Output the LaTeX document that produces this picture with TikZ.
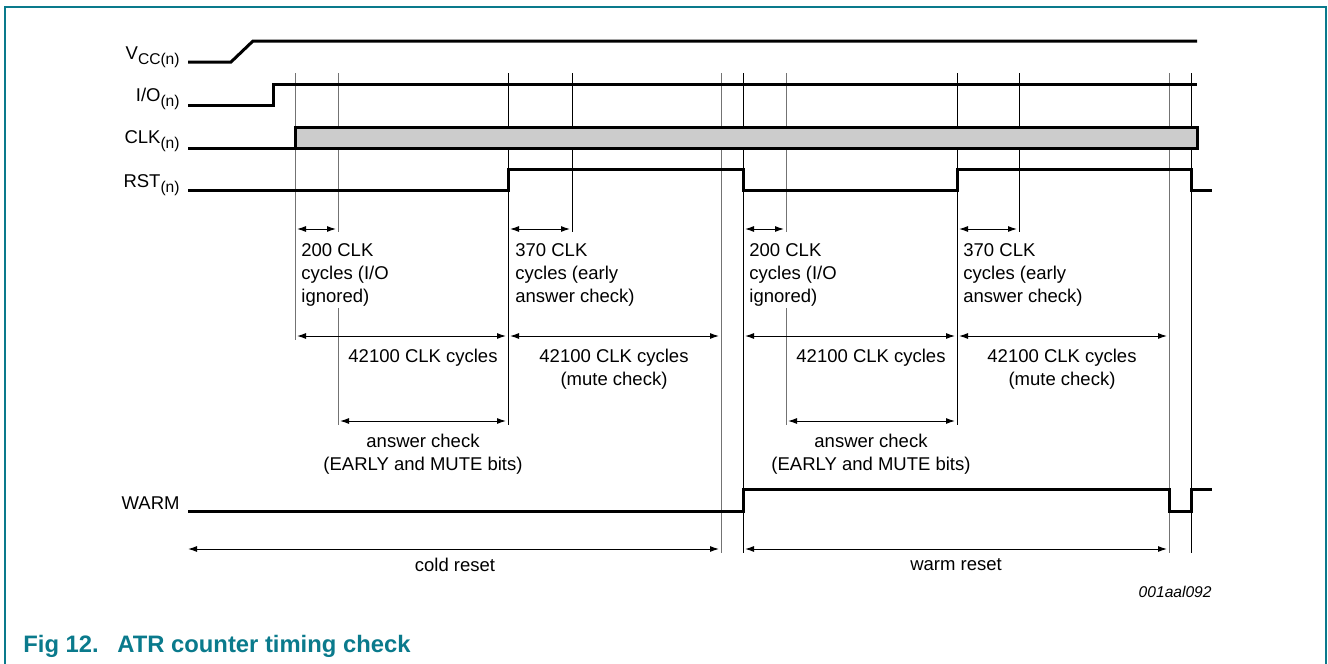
\documentclass[tikz,border=0pt]{standalone}
\usepackage{fontspec}
\setmainfont{Liberation Sans}
\usetikzlibrary{arrows.meta}
\definecolor{nxpteal}{HTML}{0A7A8C}
\definecolor{clkfill}{HTML}{CCCCCC}
\tikzset{
  wave/.style={line width=1.5pt, line join=miter},
  guide/.style={line width=0.5pt, black!55},
  guidedark/.style={line width=0.5pt, black},
  dimline/.style={{Latex[length=4.5pt,width=3pt]}-{Latex[length=4.5pt,width=3pt]}, line width=0.5pt, shorten <=1pt, shorten >=1pt},
  sig/.style={anchor=base east, inner sep=0pt, font=\fontsize{9.25}{11.5}\selectfont},
  note/.style={inner sep=0pt, align=left, anchor=north west, font=\fontsize{9.25}{11.5}\selectfont},
  cnote/.style={note, align=center, anchor=north},
}
\newcommand{\subtxt}[1]{\raisebox{-2.6pt}{\fontsize{7.8}{9}\selectfont #1}}

\begin{document}
\begin{tikzpicture}[x=0.5pt, y=-0.5pt]
    \useasboundingbox (0,0) rectangle (1328,664);
    \draw[nxpteal, line width=1pt] (5,664) -- (5,7) -- (1326,7) -- (1326,664);

    % time marks (top of the guide lines)
    \coordinate (c0) at (188,73);
    \coordinate (c1) at (295,73);
    \coordinate (c2) at (338,73);
    \coordinate (c3) at (508,73);
    \coordinate (c4) at (572,73);
    \coordinate (c5) at (721,73);
    \coordinate (w1) at (743,73);
    \coordinate (w2) at (786,73);
    \coordinate (w3) at (957,73);
    \coordinate (w4) at (1019,73);
    \coordinate (w5) at (1169,73);
    \coordinate (w6) at (1191,73);

    % signal names
    \node[sig] (vcc) at (180,59) {V\subtxt{CC(n)}};
    \node[sig] (io) at (180,101) {I/O\subtxt{(n)}};
    \node[sig] (clk) at (180,143) {CLK\subtxt{(n)}};
    \node[sig] (rst) at (180,187) {RST\subtxt{(n)}};
    \node[sig] (warm) at (180,509) {WARM};

    % guide lines
    \draw[guide] (c1) -- (c1 |- 0,340);
    \draw[guide] (c2) -- (c2 |- 0,232) (c2 |- 0,308) -- (c2 |- 0,425);
    \draw[guidedark] (c3) -- (c3 |- 0,425);
    \draw[guidedark] (c4) -- (c4 |- 0,232);
    \draw[guide] (c5) -- (c5 |- 0,553);
    \draw[guidedark] (w1) -- (w1 |- 0,553);
    \draw[guide] (w2) -- (w2 |- 0,232) (w2 |- 0,308) -- (w2 |- 0,425);
    \draw[guidedark] (w3) -- (w3 |- 0,425);
    \draw[guidedark] (w4) -- (w4 |- 0,232);
    \draw[guide] (w5) -- (w5 |- 0,553);
    \draw[guidedark] (w6) -- (w6 |- 0,553);

    % waveforms
    \draw[wave] (188,62) -- (231,62) -- (253,41) -- (1197,41);
    \draw[wave] (188,105) -- (273,105) -- (273,84) -- (1197,84);
    \draw[wave] (188,148) -- (295,148);
    \draw[wave, fill=clkfill] (295,148) rectangle (1197,127);
    \draw[wave] (188,190) -- (508,190) -- (508,169) -- (743,169) -- (743,190)
      -- (957,190) -- (957,169) -- (1191,169) -- (1191,190) -- (1212,190);
    \draw[wave] (188,511) -- (743,511) -- (743,489) -- (1169,489) -- (1169,511)
      -- (1191,511) -- (1191,489) -- (1212,489);

    % cold reset
    \draw[dimline] (c1 |- 0,229) -- (c2 |- 0,229);
    \draw[dimline] (c3 |- 0,229) -- (c4 |- 0,229);
    \draw[dimline] (c1 |- 0,336) -- (c3 |- 0,336);
    \draw[dimline] (c3 |- 0,336) -- (c5 |- 0,336);
    \draw[dimline] (c2 |- 0,421) -- (c3 |- 0,421);
    \node[note] (clkig) at (301,243) {200 CLK\\cycles (I/O\\ignored)};
    \node[note] (early) at (515,243) {370 CLK\\cycles (early\\answer check)};
    \node[cnote] (cyc) at (423,349) {42100 CLK cycles};
    \node[cnote] (mute) at (614,349) {42100 CLK cycles\\(mute check)};
    \node[cnote] (answer) at (423,434) {answer check\\(EARLY and MUTE bits)};

    % warm reset
    \draw[dimline] (w1 |- 0,229) -- (w2 |- 0,229);
    \draw[dimline] (w3 |- 0,229) -- (w4 |- 0,229);
    \draw[dimline] (w1 |- 0,336) -- (w3 |- 0,336);
    \draw[dimline] (w3 |- 0,336) -- (w5 |- 0,336);
    \draw[dimline] (w2 |- 0,421) -- (w3 |- 0,421);
    \node[note] (clkigw) at (749,243) {200 CLK\\cycles (I/O\\ignored)};
    \node[note] (earlyw) at (963,243) {370 CLK\\cycles (early\\answer check)};
    \node[cnote] (cycw) at (871,349) {42100 CLK cycles};
    \node[cnote] (mutew) at (1062,349) {42100 CLK cycles\\(mute check)};
    \node[cnote] (answerw) at (871,434) {answer check\\(EARLY and MUTE bits)};

    % reset spans
    \draw[dimline, shorten <=0pt] (c0 |- 0,549) -- (c5 |- 0,549);
    \draw[dimline] (w1 |- 0,549) -- (w5 |- 0,549);
    \node[cnote] (cold) at (455,558) {cold reset};
    \node[cnote] (warmrst) at (956,558) {warm reset};
    \node[note, anchor=north east, font=\fontsize{7.8}{9}\selectfont\itshape] (figid) at (1212,586) {001aal092};

    \node[anchor=base west, inner sep=0pt, text=nxpteal, font=\fontsize{11.9}{14}\selectfont\bfseries] (caption) at (23,652)
      {\makebox[47pt][l]{Fig 12.}ATR counter timing check};
  \end{tikzpicture}
\end{document}
